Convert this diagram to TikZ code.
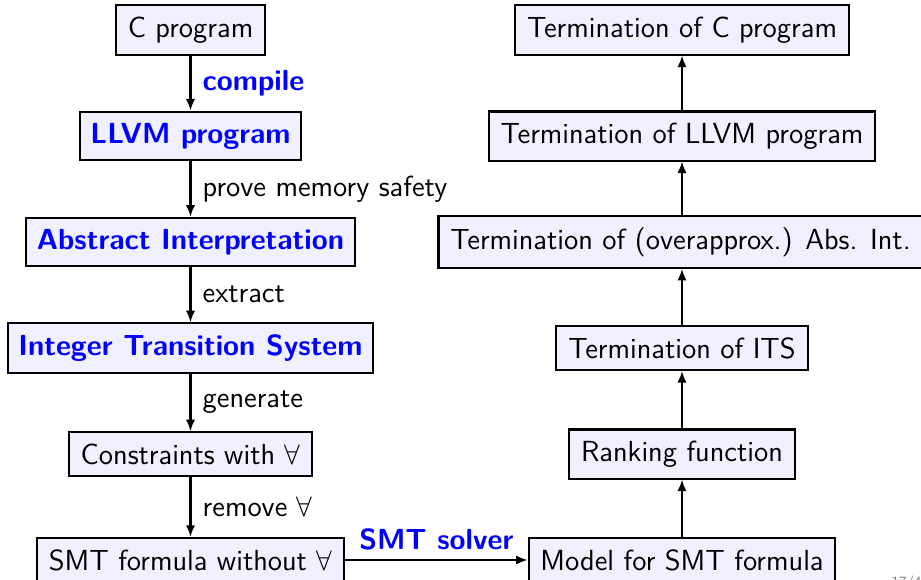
\documentclass[tikz,border=0pt]{standalone}
\usepackage{fontspec}
\usetikzlibrary{arrows.meta}
\definecolor{boxfill}{RGB}{240,240,255}
\definecolor{hl}{RGB}{0,0,255}
\newcommand{\stagefont}{\fontsize{11.3}{13}\selectfont\sffamily}
\tikzset{
  stage/.style={draw=black, line width=0.8pt, fill=boxfill, font=\stagefont, inner xsep=4.6pt, inner ysep=4.4pt},
  keystage/.style={stage, text=hl, font=\stagefont\bfseries, inner xsep=4.2pt},
  arr/.style={line width=0.8pt, -{Latex[length=4.5pt,width=3.6pt]}},
  lbl/.style={font=\stagefont, inner sep=0.3333em, xshift=1pt},
  keylbl/.style={lbl, text=hl, font=\stagefont\bfseries},
  pagenum/.style={font=\fontsize{5.5}{6}\selectfont\sffamily, text=gray, inner sep=0pt}
}
\begin{document}
\begin{tikzpicture}[x=0.3887pt, y=-0.3887pt]
  \clip (0,0) rectangle (921,579);
  % left column: from the C program down to the SMT formula
  \node[stage]    (c)    at (190.5, 30)  {C program};
  \node[keystage] (llvm) at (190.5, 136) {LLVM program};
  \node[keystage] (ai)   at (190.5, 242) {Abstract Interpretation};
  \node[keystage] (its)  at (190.5, 348) {Integer Transition System};
  \node[stage]    (cons) at (190.5, 454) {Constraints with $\forall$};
  \node[stage]    (smt)  at (190.5, 560) {SMT formula without $\forall$};
  % right column: from the model back up to termination of the C program
  \node[stage] (model) at (682, 560) {Model for SMT formula};
  \node[stage] (rank)  at (682, 454) {Ranking function};
  \node[stage] (tits)  at (682, 348) {Termination of ITS};
  \node[stage] (tai)   at (680.5, 242) {Termination of (overapprox.) Abs. Int.};
  \node[stage] (tllvm) at (682, 136) {Termination of LLVM program};
  \node[stage] (tc)    at (682, 30)  {Termination of C program};
  % steps down the left column
  \draw[arr] (c)    -- node[keylbl, right] {compile} (llvm);
  \draw[arr] (llvm) -- node[lbl, right] {prove memory safety} (ai);
  \draw[arr] (ai)   -- node[lbl, right] {extract} (its);
  \draw[arr] (its)  -- node[lbl, right] {generate} (cons);
  \draw[arr] (cons) -- node[lbl, right] {remove $\forall$} (smt);
  % solving step
  \draw[arr] (smt) -- node[keylbl, above, xshift=-1pt] {SMT solver} (model);
  % implications up the right column
  \draw[arr] (model) -- (rank);
  \draw[arr] (rank)  -- (tits);
  \draw[arr] (tits)  -- (tits |- tai.south);
  \draw[arr] (tllvm |- tai.north) -- (tllvm);
  \draw[arr] (tllvm) -- (tc);
  % slide number in the corner
  \node[pagenum, anchor=north west] (pg) at (891, 575) {17/40};
\end{tikzpicture}
\end{document}
